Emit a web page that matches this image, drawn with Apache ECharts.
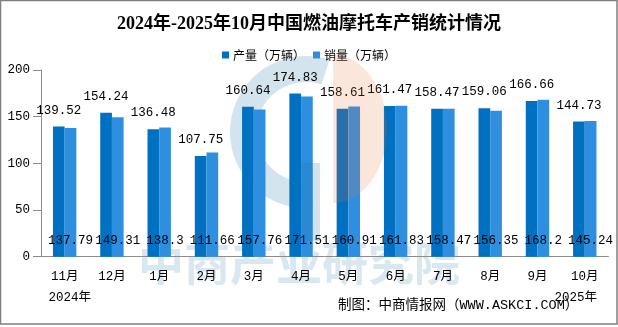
<!DOCTYPE html>
<html><head><meta charset="utf-8">
<script src="https://cdn.jsdelivr.net/npm/echarts@6/dist/echarts.min.js"></script>
<style>html,body{margin:0;padding:0;background:#fff}#c{width:618px;height:327px}</style>
</head><body><div id="c"></div>
<script>
const titleText = '2024年-2025年10月中国燃油摩托车产销统计情况';
const categories = ['11月','12月','1月','2月','3月','4月','5月','6月','7月','8月','9月','10月'];
const yearLabels = ['2024年','','','','','','','','','','','2025年'];
const production = [139.52,154.24,136.48,107.75,160.64,174.83,158.61,161.47,158.47,159.06,166.66,144.73];
const sales = [137.79,149.31,138.3,111.66,157.76,171.51,160.91,161.83,158.47,156.35,168.2,145.24];
const seriesNames = ['产量（万辆）','销量（万辆）'];
const yTicks = {min:0, max:200, interval:50};
const sourceText = '制图：中商情报网（WWW.ASKCI.COM）';

const mono = '"Liberation Mono", "Noto Sans CJK SC", monospace';
// watermark half-ellipse outline (decoration only)
const peachPts = [];
for (let k = 0; k <= 40; k++) {
  const a = -Math.PI/2 + Math.PI * k / 40;
  peachPts.push([333 + 54*Math.cos(a), 129 + 74*Math.sin(a)]);
}
const chart = echarts.init(document.getElementById('c'), null, {renderer:'canvas'});
chart.setOption({
  animation:false,
  backgroundColor:'#fff',
  title:{text:titleText,left:'center',top:10,textStyle:{fontSize:18,fontWeight:'bold',color:'#000',fontFamily:'"Liberation Serif","Noto Sans CJK SC",serif'}},
  legend:{top:44,left:'center',itemWidth:7,itemHeight:7,itemGap:8,icon:'rect',
    textStyle:{fontSize:12,color:'#000',fontFamily:'"Noto Sans CJK SC",sans-serif',padding:[0,0,0,-1]},data:seriesNames},
  grid:{left:41,right:9,top:70,bottom:70.3,containLabel:false},
  xAxis:{type:'category',data:categories,
    axisLine:{lineStyle:{color:'#8c8c8c',width:1}},
    axisTick:{length:5,lineStyle:{color:'#8c8c8c'}},
    axisLabel:{margin:9,interval:0,color:'#000',fontSize:12.5,fontFamily:mono,lineHeight:21,
      formatter:function(v,i){const y=yearLabels[i]; if(!y) return v;
        return i===0 ? v+'\n{r|'+y+'}' : v+'\n{l|'+y+'}';},
      rich:{r:{padding:[0,0,0,10],fontSize:12.5,fontFamily:mono,color:'#000',lineHeight:21},
            l:{padding:[0,18,0,0],fontSize:12.5,fontFamily:mono,color:'#000',lineHeight:21}}}},
  yAxis:{type:'value',min:yTicks.min,max:yTicks.max,interval:yTicks.interval,
    axisLine:{show:true,lineStyle:{color:'#8c8c8c'}},
    axisTick:{show:true,length:8,lineStyle:{color:'#8c8c8c'}},
    splitLine:{show:false},
    axisLabel:{margin:11,color:'#000',fontSize:12.5,fontFamily:mono}},
  series:[
    {name:seriesNames[0],type:'bar',data:production,barWidth:11.7,barGap:'0%',
      itemStyle:{color:'#0070C0'},z:2,
      label:{show:true,position:'top',distance:10,color:'#000',fontSize:12.5,fontFamily:mono}},
    {name:seriesNames[1],type:'bar',data:sales,barWidth:11.7,
      itemStyle:{color:'#2E8FE0'},z:2,
      label:{show:true,position:'insideBottom',distance:10,color:'#000',fontSize:12.5,fontFamily:mono}}
  ],
  graphic:[
    {type:'sector',z:0,silent:true,shape:{cx:306,cy:132,r:76,r0:50,startAngle:Math.PI*0.47,endAngle:Math.PI*1.6,clockwise:true},style:{fill:'#D3E4EF'}},
    {type:'text',z:0,silent:true,left:138,top:240,style:{text:'中商产业研究院',fontSize:46,fontWeight:'bold',fill:'#D9E7F0',fontFamily:'"Noto Sans CJK SC",sans-serif'}},
    {type:'polygon',z:100,silent:true,shape:{points:peachPts},style:{fill:'#E8743B',opacity:0.18}},
    {type:'rect',z:100,silent:true,shape:{x:301,y:163,width:19,height:78},style:{fill:'#1E73AA',opacity:0.2}},
    {type:'text',z:10,left:338,top:299,style:{text:sourceText,fontSize:13.5,fill:'#000',fontFamily:mono}},
    {type:'rect',z:200,silent:true,shape:{x:0.5,y:0.5,width:616.5,height:323.5},style:{fill:'none',stroke:'#808080',lineWidth:1.5}}
  ]
});
</script></body></html>
